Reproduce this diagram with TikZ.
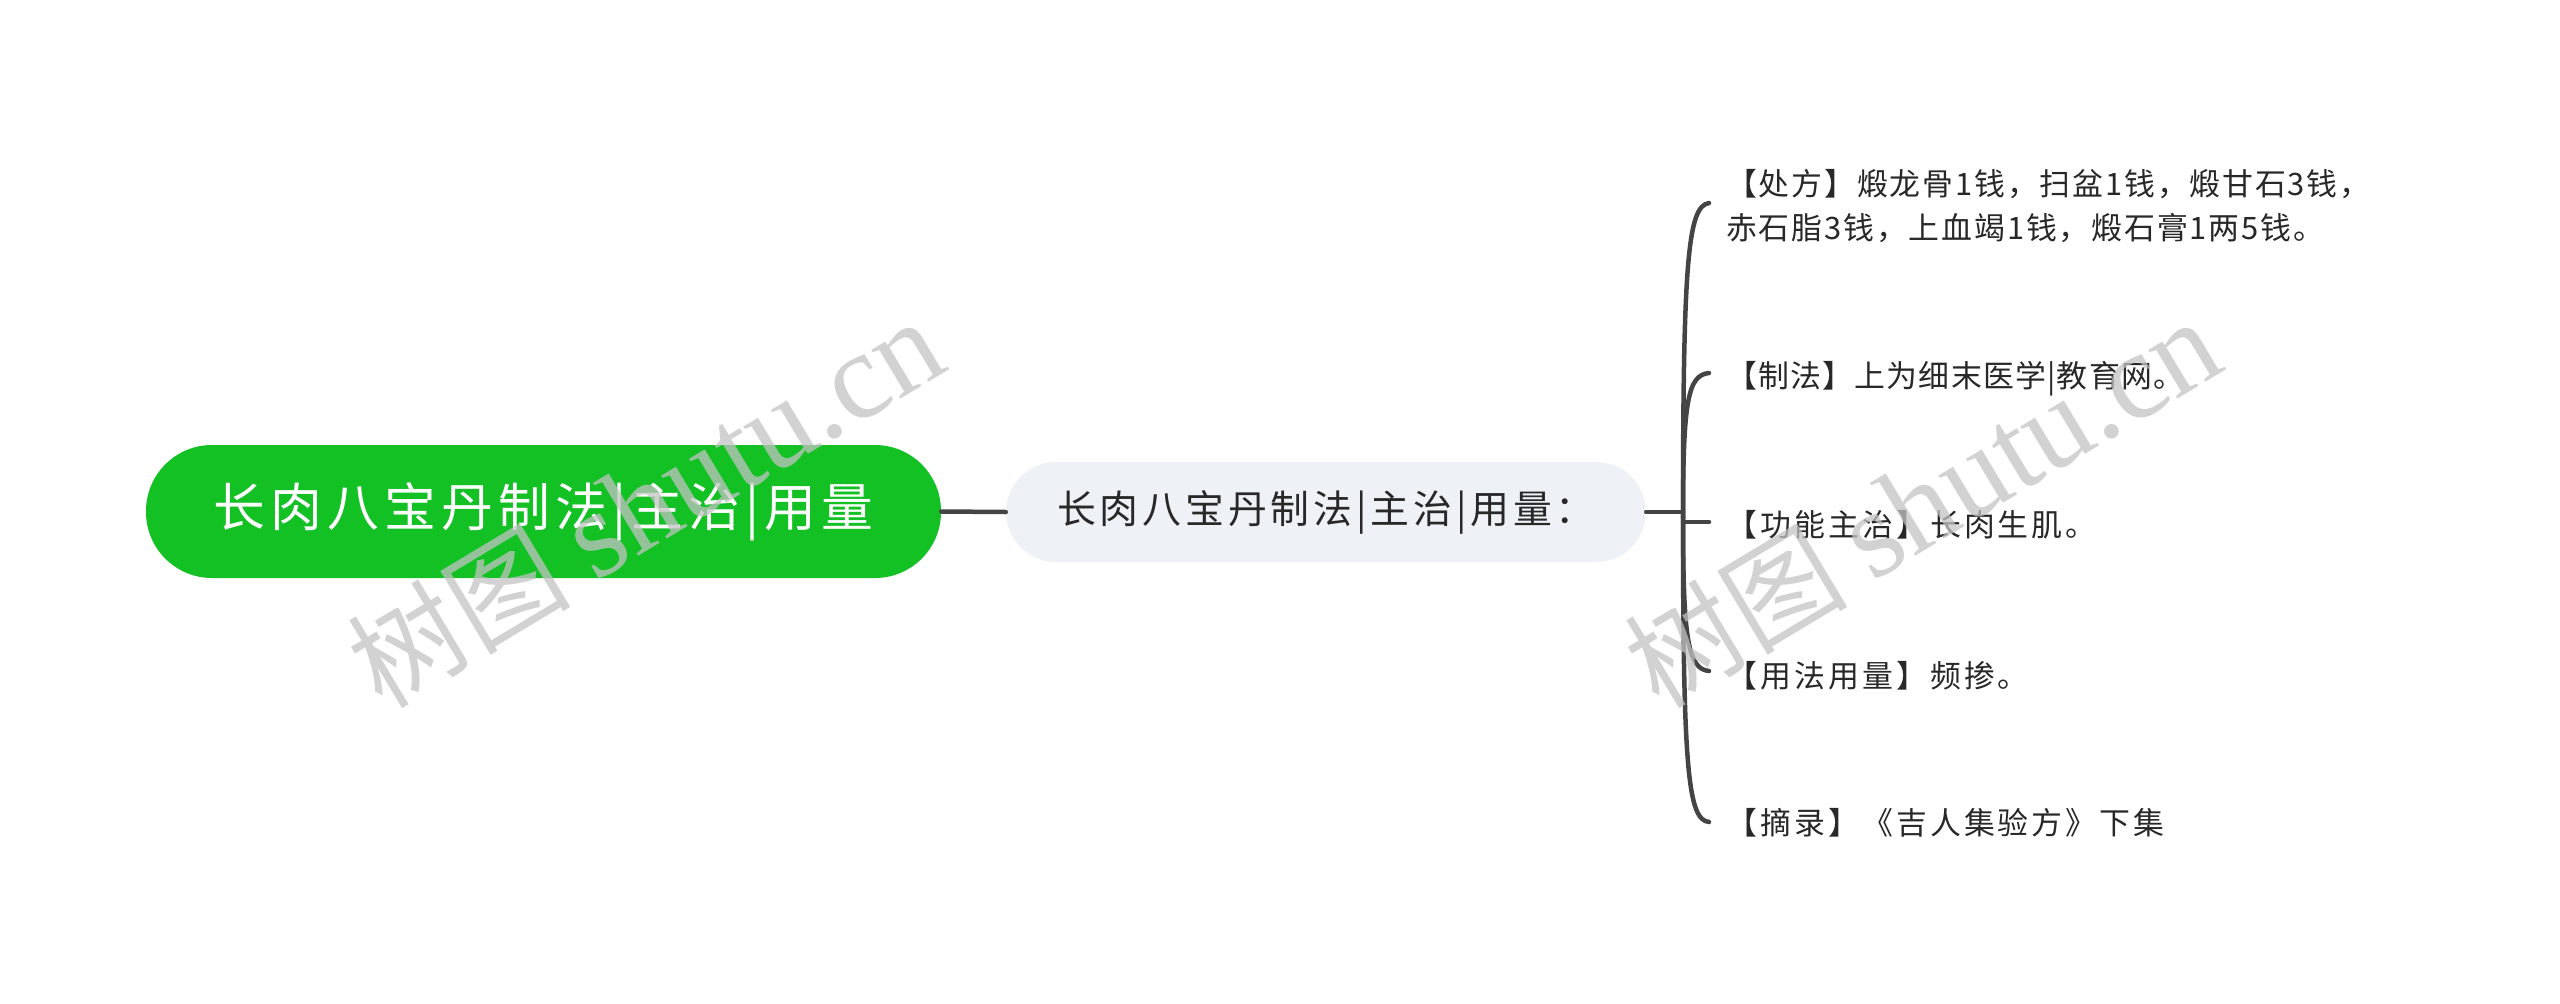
\documentclass[tikz,border=0pt]{standalone}
\usepackage{fontspec}
\newfontfamily\cjk{Noto Sans CJK SC}[LetterSpace=10]
\newfontfamily\cjkm{Noto Sans CJK SC}[LetterSpace=6]
\newfontfamily\cjkn{Noto Sans CJK SC}[LetterSpace=4]
\newfontfamily\cjkwm{Noto Sans CJK SC}
\newfontfamily\wmlat{Liberation Serif}
\usetikzlibrary{positioning}
\definecolor{rootgreen}{RGB}{19,193,37}
\definecolor{midfill}{RGB}{238,241,245}
\definecolor{linegray}{RGB}{68,68,68}
\definecolor{txtgray}{RGB}{40,40,40}
\definecolor{wmgray}{RGB}{195,195,195}
\tikzset{
  rootbox/.style={fill=rootgreen, draw=none, rounded corners=66bp, minimum width=795bp, minimum height=133bp, inner sep=0pt, text=white, font=\cjk\fontsize{52}{60}\selectfont},
  midbox/.style={fill=midfill, draw=none, rounded corners=50bp, minimum width=640bp, minimum height=100bp, inner sep=0pt, text=txtgray, font=\cjk\fontsize{39}{46}\selectfont},
  leaf/.style={anchor=west, inner sep=0pt, text=txtgray, align=left, font=\cjk\fontsize{31}{45}\selectfont},
  conn/.style={draw=linegray, line width=4.5bp, line cap=round},
  wm/.style={text=wmgray, opacity=0.75, rotate=31, inner sep=0pt}
}
\begin{document}
\begin{tikzpicture}[x=1bp,y=-1bp]
\useasboundingbox (0,0) rectangle (2560,1003);
% nodes
\node[rootbox] (root) at (543.5,511.5) {长肉八宝丹制法|主治|用量};
\node[midbox] (mid) at (1326,512) {长肉八宝丹制法|主治|用量：};
\coordinate (trunk) at (1683,512);
\coordinate (org) at (1683,517);
\node[leaf, font=\cjkm\fontsize{31}{45}\selectfont] (l1) at (1726,206) {【处方】煅龙骨1钱，扫盆1钱，煅甘石3钱，\\赤石脂3钱，上血竭1钱，煅石膏1两5钱。};
\node[leaf, font=\cjkn\fontsize{31}{45}\selectfont] (l2) at (1726,379) {【制法】上为细末医学|教育网。};
\node[leaf] (l3) at (1726,525) {【功能主治】长肉生肌。};
\node[leaf] (l4) at (1726,676) {【用法用量】频掺。};
\node[leaf] (l5) at (1726,823) {【摘录】《吉人集验方》下集};
\coordinate (e1) at (1709,203);
\coordinate (e2) at (1709,373);
\coordinate (e3) at (1709,522);
\coordinate (e4) at (1709,671);
\coordinate (e5) at (1709,822);
% connectors
\draw[conn] (root.east) -- (mid.west);
\draw[conn] (mid.east) -- (trunk);
\draw[conn] (org) .. controls (1683,260) and (1688,206) .. (e1);
\draw[conn] (org) .. controls (1683,400) and (1688,375) .. (e2);
\draw[conn] (org |- e3) -- (e3);
\draw[conn] (org) .. controls (1683,640) and (1688,669) .. (e4);
\draw[conn] (org) .. controls (1683,770) and (1688,820) .. (e5);
% watermarks
\node[wm] (w1) at (645,503) {\cjkwm\fontsize{112}{120}\selectfont 树图 \wmlat\fontsize{124}{130}\selectfont shutu.cn};
\node[wm] (w2) at (1922,503) {\cjkwm\fontsize{112}{120}\selectfont 树图 \wmlat\fontsize{124}{130}\selectfont shutu.cn};
\end{tikzpicture}
\end{document}
